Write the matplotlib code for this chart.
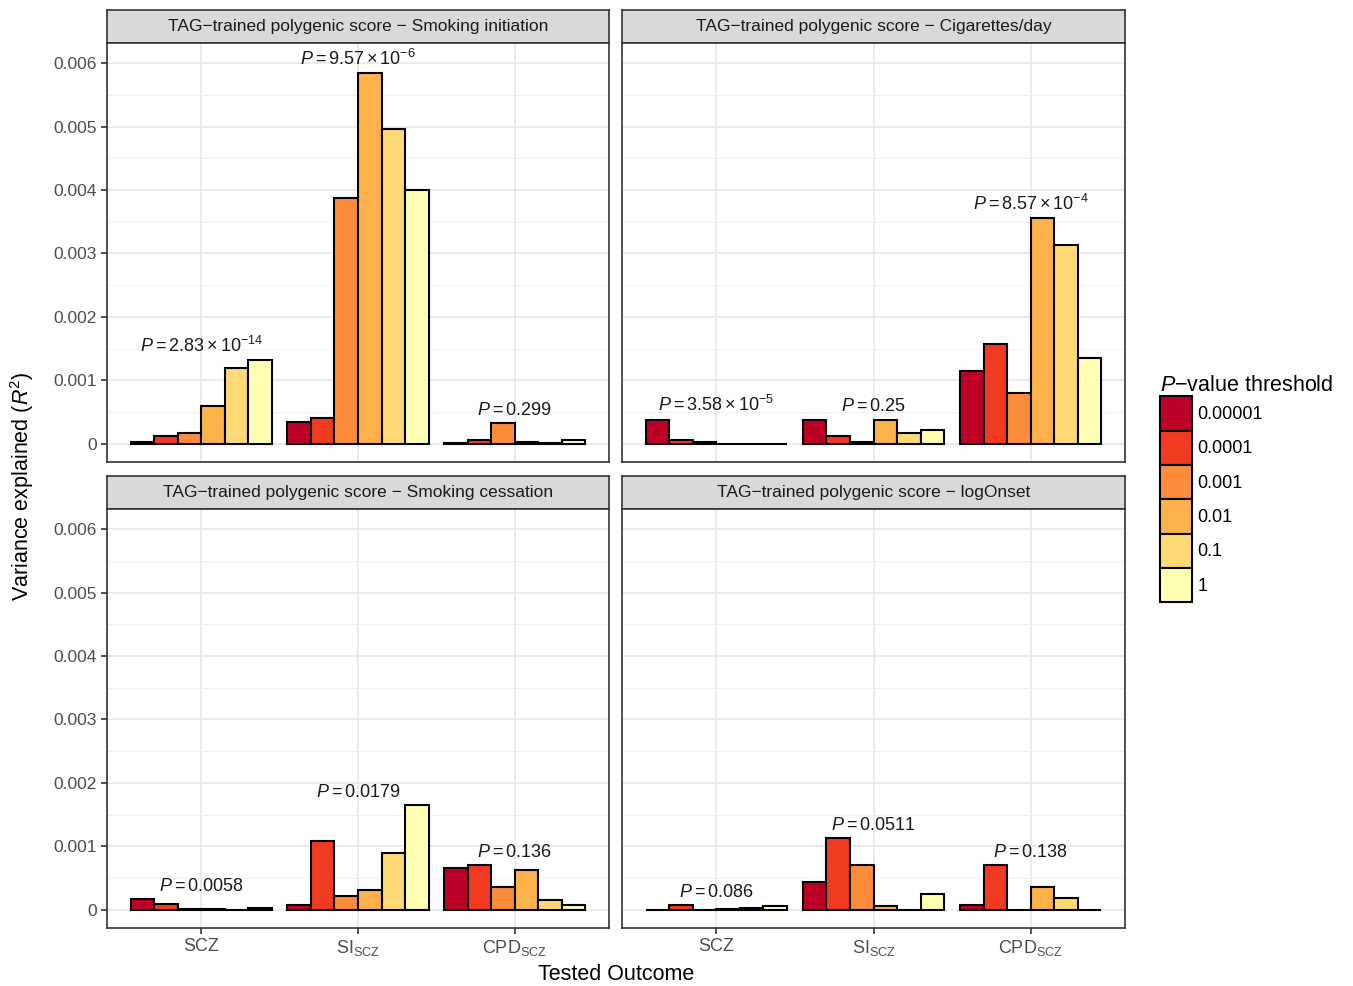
import matplotlib
matplotlib.use("Agg")
import matplotlib.pyplot as plt
from matplotlib.patches import Patch
from matplotlib.ticker import MultipleLocator
import numpy as np

plt.rcParams["font.family"] = ["Liberation Sans", "DejaVu Sans"]
plt.rcParams["mathtext.fontset"] = "custom"
plt.rcParams["mathtext.rm"] = "Liberation Sans"
plt.rcParams["mathtext.it"] = "Liberation Sans:italic"
plt.rcParams["mathtext.bf"] = "Liberation Sans:bold"

# data: rows = tested outcome (SCZ, SI_scz, CPD_scz), cols = P-value threshold
outcomes = ["SCZ", r"SI$_{\mathrm{SCZ}}$", r"CPD$_{\mathrm{SCZ}}$"]
thresholds = ["0.00001", "0.0001", "0.001", "0.01", "0.1", "1"]
colors = ["#BD0026", "#F03B20", "#FD8D3C", "#FEB24C", "#FED976", "#FFFFB2"]

r2_initiation = [[0.00003, 0.000115, 0.00017, 0.00059, 0.0012, 0.00132],
                 [0.00034, 0.0004, 0.00387, 0.00584, 0.00497, 0.004],
                 [0.00001, 0.00006, 0.00033, 0.00002, 0.00001, 0.00006]]
r2_cigs = [[0.00038, 0.00005, 0.00003, 0.0, 0.0, 0.0],
           [0.00038, 0.00012, 0.00003, 0.00037, 0.00017, 0.00021],
           [0.00115, 0.00157, 0.0008, 0.00356, 0.00313, 0.00135]]
r2_cessation = [[0.00017, 0.00009, 0.00001, 0.00001, 0.0, 0.00002],
                [0.00007, 0.00108, 0.00022, 0.00031, 0.0009, 0.00165],
                [0.00065, 0.0007, 0.00035, 0.00063, 0.00015, 0.00007]]
r2_onset = [[0.0, 0.00007, 0.0, 0.00001, 0.00002, 0.00006],
            [0.00043, 0.00113, 0.00071, 0.00006, 0.0, 0.00025],
            [0.00007, 0.0007, 0.0, 0.00036, 0.00019, 0.0]]

p_initiation = [r"2.83 \times 10^{-14}", r"9.57 \times 10^{-6}", "0.299"]
p_cigs = [r"3.58 \times 10^{-5}", "0.25", r"8.57 \times 10^{-4}"]
p_cessation = ["0.0058", "0.0179", "0.136"]
p_onset = ["0.086", "0.0511", "0.138"]

titles = ["TAG\u2212trained polygenic score \u2212 Smoking initiation",
          "TAG\u2212trained polygenic score \u2212 Cigarettes/day",
          "TAG\u2212trained polygenic score \u2212 Smoking cessation",
          "TAG\u2212trained polygenic score \u2212 logOnset"]

W, H = 1353, 986
fig = plt.figure(figsize=(W / 100, H / 100), dpi=100)
fig.patch.set_facecolor("white")


def px_axes(x0, y0, x1, y1):
    return fig.add_axes([x0 / W, 1 - y1 / H, (x1 - x0) / W, (y1 - y0) / H])


panels = [
    (107, 609, 10, 43, 462, r2_initiation, p_initiation, True, False),
    (622, 1125, 10, 43, 462, r2_cigs, p_cigs, False, False),
    (107, 609, 476, 509, 928, r2_cessation, p_cessation, True, True),
    (622, 1125, 476, 509, 928, r2_onset, p_onset, False, True),
]

bw = 0.15
for i, (x0, x1, s0, y0, y1, vals, pv, show_y, show_x) in enumerate(panels):
    # strip
    sax = px_axes(x0, s0, x1, y0)
    sax.set_facecolor("#D9D9D9")
    sax.set_xticks([])
    sax.set_yticks([])
    for sp in sax.spines.values():
        sp.set_color("#333333")
        sp.set_linewidth(1.2)
    sax.text(0.5, 0.5, titles[i], ha="center", va="center", fontsize=12.5,
             color="#1A1A1A", transform=sax.transAxes)

    ax = px_axes(x0, y0, x1, y1)
    vals = np.array(vals)
    for k in range(len(thresholds)):
        xs = np.arange(3) + (k - 2.5) * bw
        ax.bar(xs, vals[:, k], width=bw, color=colors[k], edgecolor="black",
               linewidth=1.5, zorder=3)
    for g in range(3):
        ax.annotate(r"$P = %s$" % pv[g], xy=(g, vals[g].max()),
                    xytext=(0, 3), textcoords="offset points",
                    ha="center", va="bottom", fontsize=13, color="#1A1A1A",
                    zorder=4)

    ax.set_xlim(-0.6, 2.6)
    ax.set_ylim(-0.00029, 0.00632)
    ax.yaxis.set_major_locator(MultipleLocator(0.001))
    ax.yaxis.set_minor_locator(MultipleLocator(0.0005))
    ax.set_xticks(range(3))
    ax.grid(True, which="major", color="#E8E8E8", linewidth=1.2, zorder=0)
    ax.grid(True, which="minor", axis="y", color="#F0F0F0", linewidth=0.7, zorder=0)
    ax.set_axisbelow(True)
    for sp in ax.spines.values():
        sp.set_color("#333333")
        sp.set_linewidth(1.2)
    ax.tick_params(which="minor", length=0)
    ax.tick_params(which="major", color="#333333", length=4, width=1.2,
                   labelsize=12.5, labelcolor="#4D4D4D")
    if show_y:
        ax.set_yticklabels(["0" if t == 0 else "%.3f" % t
                            for t in ax.get_yticks()])
    else:
        ax.tick_params(axis="y", length=0, labelleft=False)
    if show_x:
        ax.set_xticklabels(outcomes, fontsize=13)
    else:
        ax.tick_params(axis="x", length=0, labelbottom=False)

fig.text(616 / W, 1 - 974 / H, "Tested Outcome", ha="center", va="center",
         fontsize=15.5, color="black")
fig.text(22 / W, 1 - 486 / H, r"Variance explained ($R^2$)", ha="center",
         va="center", rotation=90, fontsize=15.5, color="black")

handles = [Patch(facecolor=c, edgecolor="black", linewidth=1.5) for c in colors]
leg = fig.legend(handles, thresholds, loc="upper left",
                 bbox_to_anchor=(1153 / W, 1 - 368 / H), frameon=False,
                 title=r"$P$" + "\u2212value threshold", title_fontsize=15.5,
                 fontsize=13, handlelength=1.75, handleheight=2.55,
                 labelspacing=0.0, handletextpad=0.3, borderaxespad=0)
leg._legend_box.align = "left"

fig.savefig("out.png", dpi=100)
